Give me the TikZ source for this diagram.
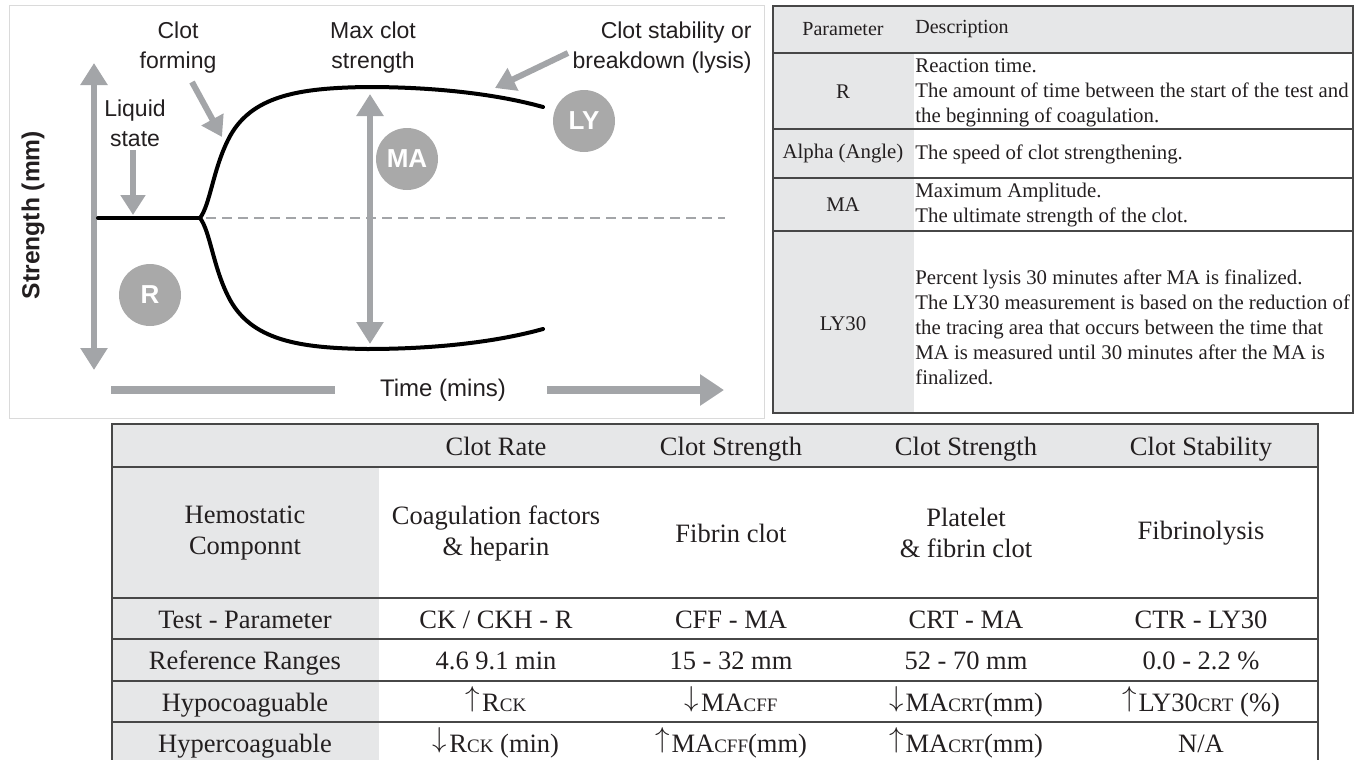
\documentclass[tikz,border=0pt]{standalone}
\usepackage{fontspec}
\setmainfont{Liberation Serif}
\setsansfont{Liberation Sans}
\usetikzlibrary{arrows.meta}

\definecolor{cellgray}{HTML}{E6E7E8}
\definecolor{rulegray}{HTML}{474747}
\definecolor{arrowgray}{HTML}{A3A5A8}
\definecolor{badgegray}{HTML}{A9A9A9}
\definecolor{framegray}{HTML}{DADADA}
\definecolor{inkgray}{HTML}{231F20}

\newcommand{\smallsub}[1]{{\fontsize{9.5}{9.5}\selectfont #1}}
\newcommand{\uparr}{\raisebox{0.16em}{$\uparrow$}\hspace{0.08em}}
\newcommand{\downarr}{\raisebox{0.16em}{$\downarrow$}\hspace{0.08em}}

\tikzset{
  grayarrow/.style={draw=arrowgray, line width=3pt, -{Triangle[length=10pt,width=12pt]}},
  twoway/.style={draw=arrowgray, line width=3pt, {Triangle[length=11pt,width=13pt]}-{Triangle[length=11pt,width=13pt]}},
  trace/.style={line width=2pt, line cap=round},
  plotlabel/.style={font=\sffamily\fontsize{11.5}{15}\selectfont, align=center, inner sep=0pt, text=inkgray},
  badge/.style={circle, fill=badgegray, minimum size=31pt, inner sep=0pt, text=white,
    font=\sffamily\bfseries\fontsize{13}{13}\selectfont},
  rule/.style={draw=rulegray, line width=1pt},
  cell/.style={font=\fontsize{13.25}{15.5}\selectfont, align=center, inner sep=0pt, text=inkgray},
  cellbase/.style={cell, anchor=base},
  pcell/.style={font=\fontsize{10.4}{12.5}\selectfont, align=center, inner sep=0pt, text=inkgray},
  desc/.style={font=\fontsize{10.4}{12.5}\selectfont, align=left, anchor=west, inner sep=0pt, text=inkgray}
}

\begin{document}
\begin{tikzpicture}[x=0.5pt,y=-0.5pt]
  \useasboundingbox (0,0) rectangle (1355,760);

  % ---- the curve panel
  \draw[framegray, line width=0.5pt] (9,5) rectangle (764,418);

  \node[plotlabel] (forming) at (178,48) {Clot\\forming};
  \node[plotlabel] (maxclot) at (373,48) {Max clot\\strength};
  \node[plotlabel, align=right, anchor=east] (lysis) at (752,48) {Clot stability or\\breakdown (lysis)};
  \node[plotlabel] (liquid) at (135,123) {Liquid\\state};
  \node[plotlabel, font=\sffamily\fontsize{12}{15}\selectfont] (time) at (443,390) {Time (mins)};
  \node[plotlabel, rotate=90, font=\sffamily\bfseries\fontsize{12.3}{15}\selectfont] (strength) at (33,215) {Strength (mm)};

  \coordinate (fork) at (200,218);
  \coordinate (liqtop) at (133,150);
  \coordinate (liqtip) at (133,215);
  \coordinate (formtop) at (192,82);
  \coordinate (formtip) at (222,137);
  \coordinate (lystop) at (568,53);
  \coordinate (lystip) at (495,88);

  % axes
  \draw[twoway] (94,63) -- (94,370);
  \draw[arrowgray, line width=4pt] (111,390) -- (335,390);
  \draw[arrowgray, line width=4pt, -{Triangle[length=12pt,width=15pt]}] (547,390) -- (724,390);

  % dashed base line
  \draw[arrowgray, line width=1.4pt, dash pattern=on 5pt off 3pt] (206,218) -- (725,218);

  % the trace
  \draw[trace] (98,218) -- (fork);
  \draw[trace] (fork) .. controls (210,205) and (213,170) .. (228,140)
    .. controls (250,95) and (300,88) .. (367,87)
    .. controls (440,87) and (500,95) .. (543,107);
  \draw[trace] (fork) .. controls (210,231) and (213,266) .. (228,296)
    .. controls (250,341) and (300,348) .. (367,349)
    .. controls (440,349) and (500,341) .. (543,329);

  % MA amplitude
  \draw[twoway] (370,94) -- (370,344);

  % pointers
  \draw[grayarrow] (liqtop) -- (liqtip);
  \draw[grayarrow] (formtop) -- (formtip);
  \draw[grayarrow] (lystop) -- (lystip);

  \node[badge] (ma) at (407,159) {MA};
  \node[badge] (ly) at (584,121) {LY};
  \node[badge] (rr) at (150,295) {R};

  % ---- parameter table
  \fill[cellgray] (773,6) rectangle (1353,53);
  \fill[cellgray] (773,53) rectangle (914,413);
  \draw[rule] (773,6) rectangle (1353,413);
  \foreach \y in {53,129,178,231}
    \draw[rule] (773,\y) -- (1353,\y);

  \node[pcell, font=\fontsize{10}{12}\selectfont] (phead) at (843,29) {Parameter};
  \node[desc, font=\fontsize{10}{12}\selectfont] (dhead) at (915,29) {Description};
  \node[pcell] (pr) at (843,92) {R};
  \node[desc] (dr) at (915,93) {Reaction time.\\The amount of time between the start of the test and\\the beginning of coagulation.};
  \node[pcell] (palpha) at (843,154) {Alpha (Angle)};
  \node[desc] (dalpha) at (915,154) {The speed of clot strengthening.};
  \node[pcell] (pma) at (843,205) {MA};
  \node[desc] (dma) at (915,205) {Maximum Amplitude.\\The ultimate strength of the clot.};
  \node[pcell] (ply) at (843,324) {LY30};
  \node[desc] (dly) at (915,327) {Percent lysis 30 minutes after MA is finalized.\\The LY30 measurement is based on the reduction of\\the tracing area that occurs between the time that\\MA is measured until 30 minutes after the MA is\\finalized.};

  % ---- reference table
  \fill[cellgray] (112,424) rectangle (1318,467);
  \fill[cellgray] (112,467) rectangle (379,764);
  \draw[rule] (112,764) -- (112,424) -- (1318,424) -- (1318,764);
  \foreach \y in {467,598,639,681,722}
    \draw[rule] (112,\y) -- (1318,\y);

  \node[cellbase] (hrate) at (496,455) {Clot Rate};
  \node[cellbase] (hfibrin) at (731,455) {Clot Strength};
  \node[cellbase] (hplatelet) at (966,455) {Clot Strength};
  \node[cellbase] (hstab) at (1201,455) {Clot Stability};

  \node[cell] (comp) at (245,533) {Hemostatic\\Componnt};
  \node[cell] (comprate) at (496,533) {Coagulation factors\\\& heparin};
  \node[cell] (compfibrin) at (731,533) {Fibrin clot};
  \node[cell] (compplatelet) at (966,533) {Platelet\\\& fibrin clot};
  \node[cell] (compstab) at (1201,533) {Fibrinolysis};

  \node[cellbase] (test) at (245,628) {Test - Parameter};
  \node[cellbase] (testrate) at (496,628) {CK / CKH - R};
  \node[cellbase] (testfibrin) at (731,628) {CFF - MA};
  \node[cellbase] (testplatelet) at (966,628) {CRT - MA};
  \node[cellbase] (teststab) at (1201,628) {CTR - LY30};

  \node[cellbase] (range) at (245,669) {Reference Ranges};
  \node[cellbase] (rangerate) at (496,669) {4.6 9.1 min};
  \node[cellbase] (rangefibrin) at (731,669) {15 - 32 mm};
  \node[cellbase] (rangeplatelet) at (966,669) {52 - 70 mm};
  \node[cellbase] (rangestab) at (1201,669) {0.0 - 2.2 \%};

  \node[cellbase] (hypo) at (245,711) {Hypocoaguable};
  \node[cellbase] (hyporate) at (496,711) {\uparr R\smallsub{CK}};
  \node[cellbase] (hypofibrin) at (731,711) {\downarr MA\smallsub{CFF}};
  \node[cellbase] (hypoplatelet) at (966,711) {\downarr MA\smallsub{CRT}(mm)};
  \node[cellbase] (hypostab) at (1201,711) {\uparr LY30\smallsub{CRT} (\%)};

  \node[cellbase] (hyper) at (245,752) {Hypercoaguable};
  \node[cellbase] (hyperrate) at (496,752) {\downarr R\smallsub{CK} (min)};
  \node[cellbase] (hyperfibrin) at (731,752) {\uparr MA\smallsub{CFF}(mm)};
  \node[cellbase] (hyperplatelet) at (966,752) {\uparr MA\smallsub{CRT}(mm)};
  \node[cellbase] (hyperstab) at (1201,752) {N/A};
\end{tikzpicture}
\end{document}
